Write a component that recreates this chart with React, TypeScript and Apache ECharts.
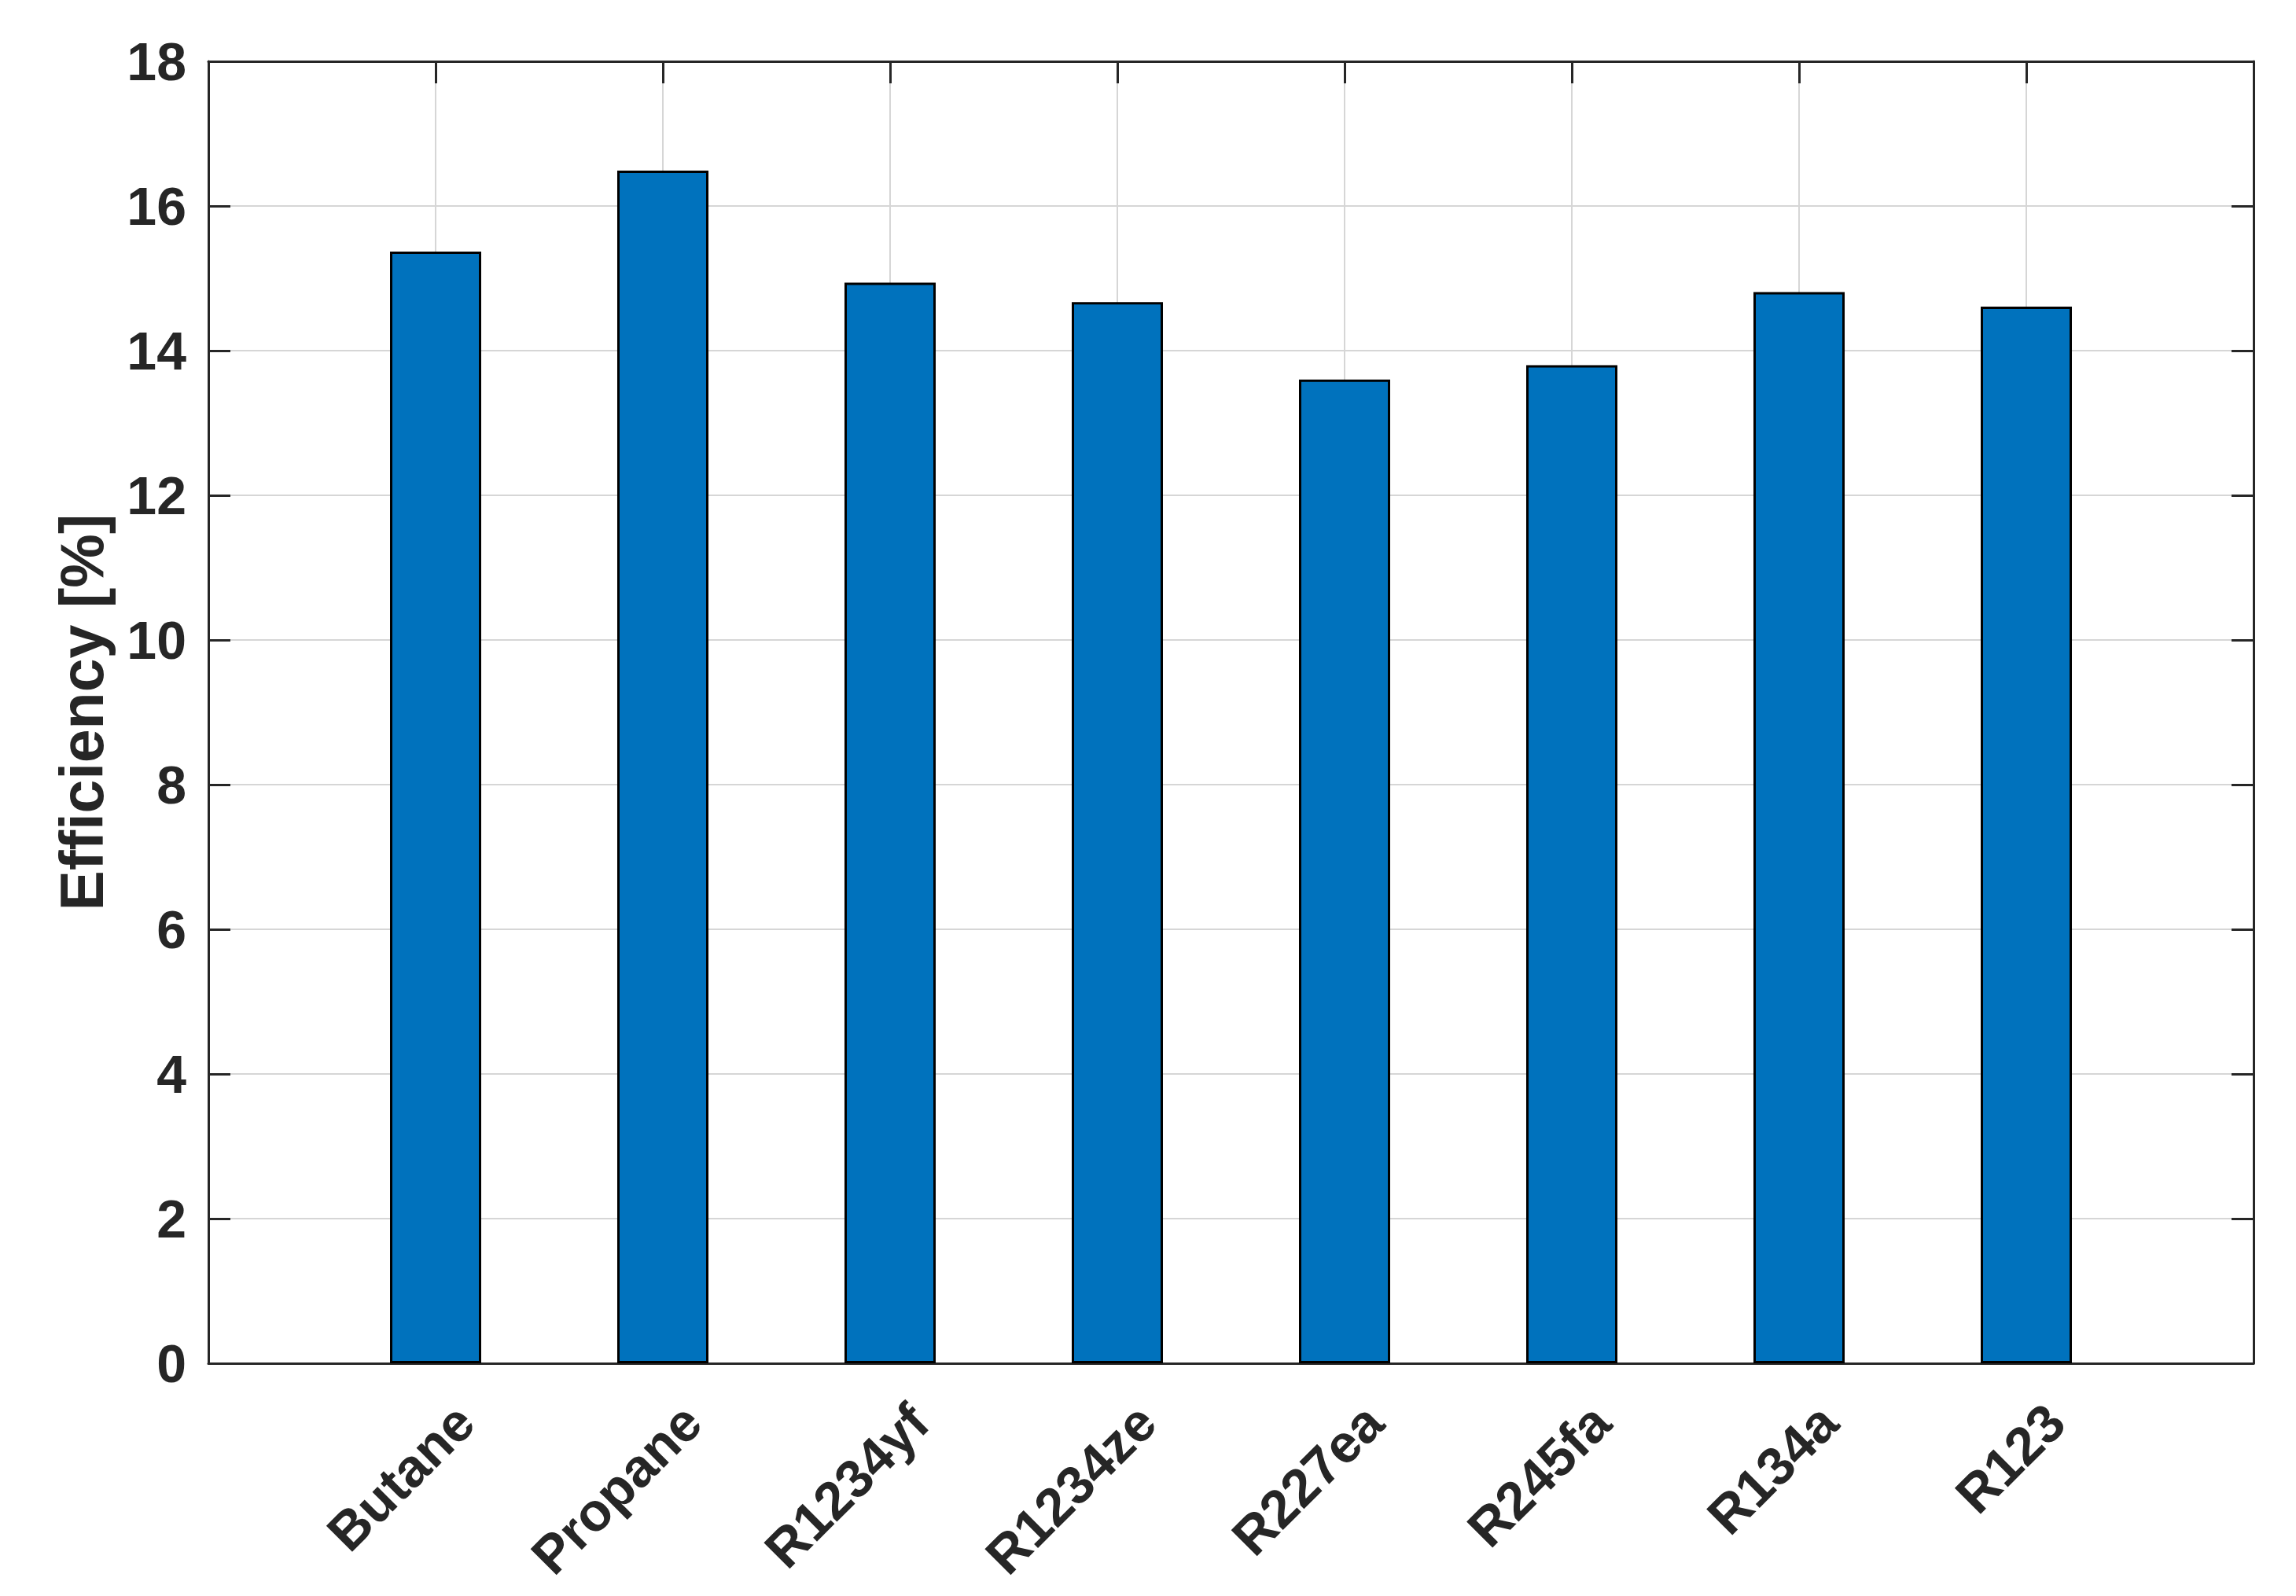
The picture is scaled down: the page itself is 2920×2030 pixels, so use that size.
import React, { useEffect, useRef } from "react";
import * as echarts from "echarts";

const categories = ["Butane", "Propane", "R1234yf", "R1234ze", "R227ea", "R245fa", "R134a", "R123"];
const efficiency = [15.37, 16.49, 14.94, 14.67, 13.6, 13.8, 14.81, 14.61];
const yTicks = { min: 0, max: 18, interval: 2 };
const yAxisTitle = "Efficiency [%]";

const FONT = "'Liberation Sans', Arial, Helvetica, sans-serif";
const AXIS_COLOR = "#262626";
const GRID_COLOR = "#d6d6d6";

export default function App() {
  const ref = useRef<HTMLDivElement>(null);

  useEffect(() => {
    if (!ref.current) return;
    const chart = echarts.init(ref.current, undefined, { renderer: "svg" });
    // pad one empty slot on each side so the bars sit one category-step from the frame
    const cats = ["", ...categories, ""];
    const data: (number | string)[] = ["-", ...efficiency, "-"];

    const axisLine = { show: true, onZero: false, lineStyle: { color: AXIS_COLOR, width: 3 } };
    const axisTick = { show: true, inside: true, length: 28, lineStyle: { color: AXIS_COLOR, width: 3 } };

    chart.setOption({
      animation: false,
      backgroundColor: "#ffffff",
      grid: { left: 265, right: 54, top: 78, bottom: 296, containLabel: false },
      xAxis: [
        {
          type: "category",
          data: cats,
          boundaryGap: false,
          position: "bottom",
          axisLine,
          axisTick: { ...axisTick, alignWithLabel: true },
          splitLine: { show: true, lineStyle: { color: GRID_COLOR, width: 2 } },
          axisLabel: {
            interval: 0,
            rotate: 45,
            margin: 100,
            padding: [0, -52, 0, 0],
            fontSize: 68,
            fontWeight: "bold",
            fontFamily: FONT,
            color: AXIS_COLOR,
          },
        },
        {
          type: "category",
          data: cats,
          boundaryGap: false,
          position: "top",
          axisLine,
          axisTick,
          splitLine: { show: false },
          axisLabel: { show: false },
        },
      ],
      yAxis: [
        {
          type: "value",
          min: yTicks.min,
          max: yTicks.max,
          interval: yTicks.interval,
          position: "left",
          axisLine,
          axisTick,
          splitLine: { show: true, lineStyle: { color: GRID_COLOR, width: 2 } },
          axisLabel: {
            margin: 28,
            fontSize: 68,
            fontWeight: "bold",
            fontFamily: FONT,
            color: AXIS_COLOR,
          },
          name: yAxisTitle,
          nameLocation: "middle",
          nameGap: 123,
          nameTextStyle: {
            fontSize: 77,
            fontWeight: "bold",
            fontFamily: FONT,
            color: AXIS_COLOR,
          },
        },
        {
          type: "value",
          min: yTicks.min,
          max: yTicks.max,
          interval: yTicks.interval,
          position: "right",
          axisLine,
          axisTick,
          splitLine: { show: false },
          axisLabel: { show: false },
        },
      ],
      series: [
        {
          type: "bar",
          xAxisIndex: 0,
          yAxisIndex: 0,
          data,
          barWidth: 116,
          itemStyle: { color: "#0072BD", borderColor: "#000000", borderWidth: 3 },
          z: 2,
        },
      ],
    });

    return () => chart.dispose();
  }, []);

  return (
    <div
      ref={ref}
      style={{ position: "fixed", left: 0, top: 0, width: 2920, height: 2030, background: "#fff" }}
    />
  );
}
